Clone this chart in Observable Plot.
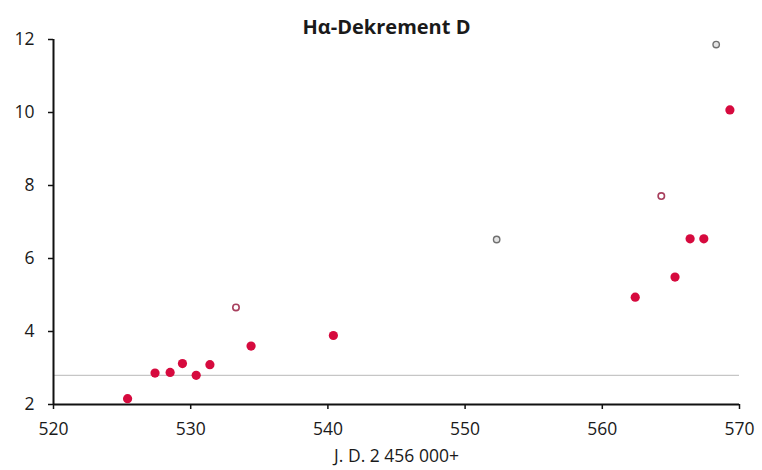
<!DOCTYPE html>
<html>
<head>
<meta charset="utf-8">
<script src="https://cdn.jsdelivr.net/npm/d3@7"></script>
<script src="https://cdn.jsdelivr.net/npm/@observablehq/plot@0.6"></script>
<style>
  html, body { margin: 0; padding: 0; background: #fff; }
  #chart svg { font-family: "Open Sans", sans-serif; }
</style>
</head>
<body>
<div id="chart"></div>
<script>
const title = "Hα-Dekrement D";
const xLabel = "J. D. 2 456 000+";
const xTicks = [520, 530, 540, 550, 560, 570];
const yTicks = [2, 4, 6, 8, 10, 12];
const referenceLevel = [2.8];

// filled (reliable) measurements
const filledJD = [525.4, 527.4, 528.5, 529.4, 530.4, 531.4, 534.4, 540.4, 562.4, 565.3, 566.4, 567.4, 569.3];
const filledD  = [2.16, 2.86, 2.88, 3.12, 2.80, 3.09, 3.60, 3.89, 4.94, 5.49, 6.54, 6.54, 10.07];

// open (uncertain) measurements
const openJD   = [533.3, 564.3];
const openD    = [4.66, 7.71];

// grey (uncertain) measurements
const greyJD   = [552.3, 568.3];
const greyD    = [6.52, 11.86];

const filled = filledJD.map((x, i) => ({x, y: filledD[i]}));
const open = openJD.map((x, i) => ({x, y: openD[i]}));
const grey = greyJD.map((x, i) => ({x, y: greyD[i]}));

const chart = Plot.plot({
  width: 762,
  height: 470,
  marginLeft: 53,
  marginRight: 23,
  marginTop: 39,
  marginBottom: 66,
  style: {fontSize: "17.5px", fontFamily: "'Open Sans', sans-serif", color: "#1a1a1a"},
  x: {domain: [520, 570]},
  y: {domain: [2, 12]},
  marks: [
    Plot.ruleY(referenceLevel, {stroke: "#b8b8b8", strokeWidth: 1}),
    Plot.axisX({ticks: xTicks, tickSize: 5, tickPadding: 13, tickFormat: d => String(d),
      stroke: "#111", strokeWidth: 1.5, label: xLabel, labelAnchor: "center", labelOffset: 57, labelArrow: "none"}),
    Plot.axisY({ticks: yTicks, tickSize: 5, tickPadding: 14, tickFormat: d => String(d),
      stroke: "#111", strokeWidth: 1.5, label: null}),
    Plot.ruleX([520], {stroke: "#111", strokeWidth: 2}),
    Plot.ruleY([2], {stroke: "#111", strokeWidth: 2}),
    Plot.dot(filled, {x: "x", y: "y", r: 4.6, fill: "#d60a3e", stroke: "none"}),
    Plot.dot(open, {x: "x", y: "y", r: 3.2, fill: "white", stroke: "#a8405e", strokeWidth: 1.6}),
    Plot.dot(grey, {x: "x", y: "y", r: 3.2, fill: "#e4e4e4", stroke: "#707070", strokeWidth: 1.4}),
    Plot.text([title], {frameAnchor: "top", dx: -10, dy: -20, text: d => d, fontWeight: "bold", fontSize: 20, fill: "#1a1a1a"})
  ]
});
document.getElementById("chart").appendChild(chart);
</script>
</body>
</html>
